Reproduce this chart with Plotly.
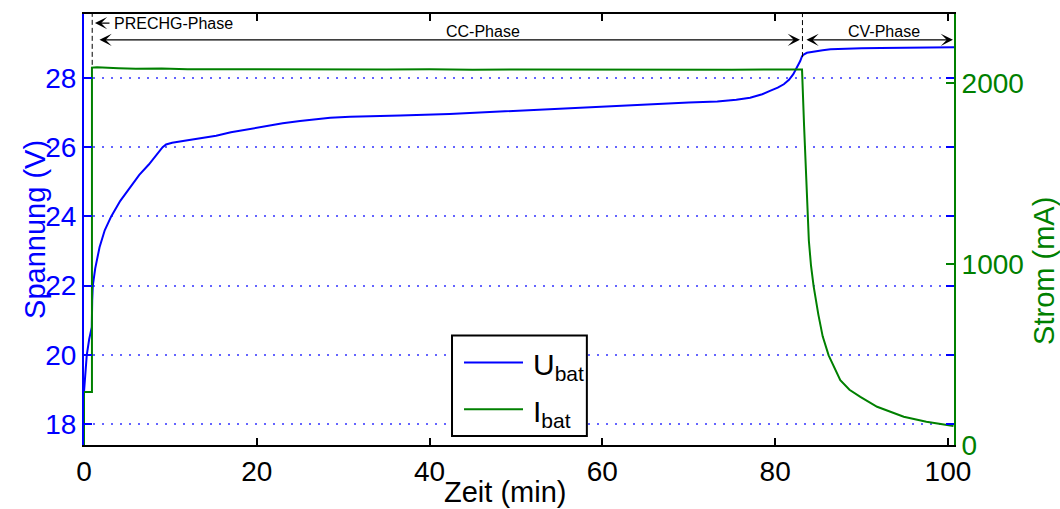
import plotly.graph_objects as go

# Battery charging log: pack voltage and charge current over time
t_u = [0, 0.15, 0.32, 0.6, 0.9, 0.95, 1.02, 1.3, 1.8, 2.4, 3.15, 4.2, 5.3, 6.4,
       7.5, 8.5, 9.1, 9.5, 10.2, 12.0, 15.3, 17.0, 19.0, 21.0, 23.0, 25.0, 26.9,
       28.5, 30.8, 33.0, 36.6, 42.3, 48.0, 53.9, 60.0, 65.5, 70.0, 73.3, 75.5,
       77.1, 78.5, 79.4, 80.3, 81.0, 81.6, 82.1, 82.5, 82.9, 83.11, 83.3, 83.68,
       84.5, 85.5, 86.4, 88.0, 90.0, 92.2, 95.0, 98.0, 100.7]
u_bat = [18.93, 19.6, 19.99, 20.45, 20.8, 21.57, 22.0, 22.5, 23.11, 23.6, 24.0,
         24.45, 24.84, 25.2, 25.5, 25.8, 26.0, 26.08, 26.13, 26.2, 26.33, 26.43,
         26.52, 26.61, 26.69, 26.76, 26.82, 26.85, 26.88, 26.9, 26.92, 26.96,
         27.03, 27.10, 27.17, 27.24, 27.29, 27.32, 27.37, 27.43, 27.53, 27.63,
         27.72, 27.82, 27.95, 28.11, 28.28, 28.49, 28.63, 28.68, 28.73, 28.77,
         28.80, 28.83, 28.85, 28.86, 28.87, 28.88, 28.89, 28.89]

t_i = [0, 0, 0.92, 0.92, 1.5, 2.5, 4, 6, 9, 12, 16, 20, 25, 30, 35, 40, 45, 50,
       55, 60, 65, 70, 75, 80, 82.5, 83.11, 83.35, 83.66, 83.9, 84.15, 84.45,
       85.0, 85.5, 86.19, 87.54, 88.6, 89.86, 91.8, 94.88, 97.5, 100.64]
i_bat = [0, 293, 293, 2084, 2086, 2082, 2080, 2077, 2079, 2075, 2074, 2076, 2072,
         2074, 2073, 2075, 2072, 2074, 2073, 2072, 2074, 2073, 2072, 2074, 2075,
         2073, 1760, 1348, 1128, 990, 877, 720, 600, 495, 358, 305, 266, 211,
         156, 128, 105]

u_ticks = [18, 20, 22, 24, 26, 28]
i_ticks = [0, 1000, 2000]
t_ticks = [0, 20, 40, 60, 80, 100]

# phase boundaries (min)
t_precharge_end = 0.95
t_cv_start = 83.16
t_end = 100.7

BLUE = "rgb(0,0,255)"
GREEN = "rgb(0,128,0)"
FONT = "Arial, Liberation Sans, sans-serif"
TICK_SIZE = 28
TITLE_SIZE = 29

fig = go.Figure()
fig.add_trace(go.Scatter(x=t_u, y=u_bat, mode="lines", name="U<sub>bat</sub>",
                         line=dict(color=BLUE, width=2), yaxis="y"))
fig.add_trace(go.Scatter(x=t_i, y=i_bat, mode="lines", name="I<sub>bat</sub>",
                         line=dict(color=GREEN, width=2), yaxis="y2"))

fig.update_layout(
    width=1060, height=509,
    margin=dict(l=84, r=106, t=12, b=64),
    paper_bgcolor="white", plot_bgcolor="white",
    showlegend=False,
    font=dict(family=FONT, size=TICK_SIZE, color="black"),
    xaxis=dict(range=[0, t_end], tickvals=t_ticks, ticks="inside", ticklen=7,
               tickwidth=1.5, tickcolor="black", showline=True, linecolor="black",
               linewidth=2, mirror="ticks", showgrid=False, zeroline=False,
               tickfont=dict(size=TICK_SIZE, color="black")),
    yaxis=dict(range=[17.395, 29.85], tickvals=u_ticks, ticks="inside", ticklen=8,
               tickwidth=2, tickcolor=BLUE, showline=True, linecolor=BLUE,
               linewidth=2, mirror="ticks", showgrid=True,
               gridcolor="rgb(100,100,255)", griddash="2px,7px", gridwidth=1.5,
               zeroline=False, tickfont=dict(size=TICK_SIZE, color=BLUE)),
    yaxis2=dict(range=[0, 2380], tickvals=i_ticks, overlaying="y", side="right",
                ticks="inside", ticklen=8, tickwidth=2, tickcolor=GREEN,
                showline=True, linecolor=GREEN, linewidth=2, showgrid=False,
                zeroline=False, tickfont=dict(size=TICK_SIZE, color=GREEN)),
)

# axis titles
fig.add_annotation(text="Spannung (V)", xref="paper", yref="paper", x=-0.057, y=0.5,
                   xanchor="center", yanchor="middle", textangle=-90,
                   showarrow=False, font=dict(size=TITLE_SIZE, color=BLUE))
fig.add_annotation(text="Strom (mA)", xref="paper", yref="paper", x=1.104, y=0.405,
                   xanchor="center", yanchor="middle", textangle=-90,
                   showarrow=False, font=dict(size=TITLE_SIZE, color=GREEN))
fig.add_annotation(text="Zeit (min)", xref="paper", yref="paper", x=0.484, y=-0.108,
                   xanchor="center", yanchor="middle", showarrow=False,
                   font=dict(size=TITLE_SIZE, color="black"))

# phase boundaries
for tb, ytop in [(t_precharge_end, 0.882), (t_cv_start, 0.9)]:
    fig.add_shape(type="line", xref="x", yref="paper", x0=tb, x1=tb, y0=ytop, y1=1,
                  line=dict(color="black", width=1, dash="5px,3px"))

ANN_FONT = dict(size=16, color="black")
row1, row2 = 0.979, 0.94
ARROW = dict(arrowhead=3, arrowsize=1.7, arrowwidth=1.2, arrowcolor="black")

# precharge markers (interval too narrow for a double arrow)
fig.add_annotation(xref="x", yref="paper", x=-0.12, y=row1, ax=-16, ay=0, text="",
                   showarrow=True, **ARROW)
fig.add_annotation(xref="x", yref="paper", x=1.27, y=row1, ax=16, ay=0, text="",
                   showarrow=True, **ARROW)
fig.add_annotation(xref="x", yref="paper", x=3.2, y=row1, text="PRECHG-Phase",
                   xanchor="left", yanchor="middle", showarrow=False, font=ANN_FONT)

# CC / CV spans with their labels
for x0, x1, xl, label in [(1.62, 82.87, 46.2, "CC-Phase"),
                          (83.45, 100.58, 92.6, "CV-Phase")]:
    fig.add_annotation(xref="x", axref="x", yref="paper", ayref="pixel",
                       x=x1, ax=x0, y=row2, ay=0, text="", showarrow=True,
                       startarrowhead=3, arrowside="end+start",
                       startarrowsize=1.7, **ARROW)
    fig.add_annotation(xref="x", yref="paper", x=xl, y=0.96, text=label,
                       xanchor="center", yanchor="middle", showarrow=False,
                       font=ANN_FONT)

# legend box
fig.add_shape(type="rect", xref="paper", yref="paper", x0=0.423, x1=0.578,
              y0=0.0208, y1=0.254, line=dict(color="black", width=2),
              fillcolor="white", layer="above")
for yl, col, label in [(0.1917, BLUE, "U<sub>bat</sub>"), (0.0831, GREEN, "I<sub>bat</sub>")]:
    fig.add_shape(type="line", xref="paper", yref="paper", x0=0.4368, x1=0.5046,
                  y0=yl, y1=yl, line=dict(color=col, width=2), layer="above")
    fig.add_annotation(xref="paper", yref="paper", x=0.5138, y=yl - 0.01, text=label,
                       xanchor="left", yanchor="middle", showarrow=False,
                       font=dict(size=30, color="black"))

fig.write_html("out.html")
